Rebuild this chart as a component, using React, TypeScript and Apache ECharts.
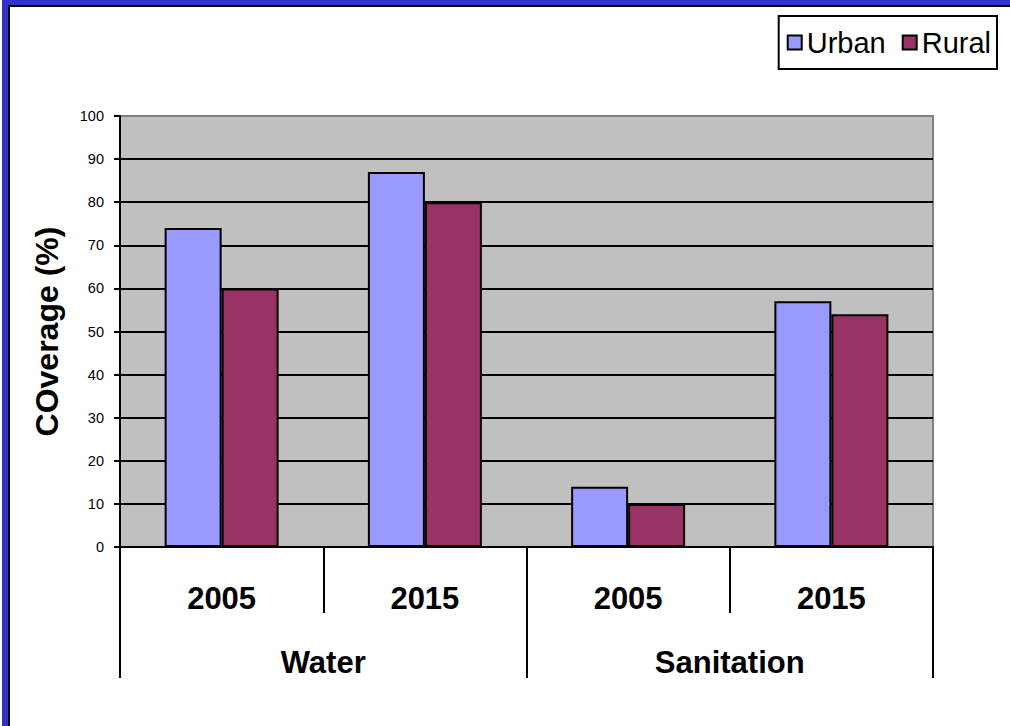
import React, { useEffect, useRef } from 'react';
import * as echarts from 'echarts';

const years = ['2005', '2015', '2005', '2015'];
const groups = ['Water', 'Sanitation'];
const urban = [74, 87, 14, 57];
const rural = [60, 80, 10, 54];
const yMin = 0;
const yMax = 100;
const yStep = 10;
const yTitle = 'COverage (%)';

const FONT = '"Liberation Sans", Arial, sans-serif';

export default function App() {
  const ref = useRef<HTMLDivElement>(null);
  useEffect(() => {
    document.body.style.margin = '0';
    const chart = echarts.init(ref.current!, null, { renderer: 'svg' });
    chart.setOption({
      animation: false,
      backgroundColor: '#FFFFFF',
      textStyle: { fontFamily: FONT },
      graphic: [
        { type: 'rect', shape: { x: 2, y: 0, width: 1008, height: 5 }, style: { fill: '#3333CC' }, silent: true },
        { type: 'rect', shape: { x: 2, y: 0, width: 6, height: 726 }, style: { fill: '#3333CC' }, silent: true },
        { type: 'line', shape: { x1: 8, y1: 6, x2: 1010, y2: 6 }, style: { stroke: '#000', lineWidth: 2 }, silent: true },
        { type: 'line', shape: { x1: 9, y1: 5, x2: 9, y2: 726 }, style: { stroke: '#000', lineWidth: 2 }, silent: true },
      ],
      legend: {
        right: 13,
        top: 16,
        orient: 'horizontal',
        padding: [12, 6, 12, 8],
        itemWidth: 14,
        itemHeight: 14,
        itemGap: 16,
        borderColor: '#000',
        borderWidth: 2,
        backgroundColor: '#fff',
        icon: 'rect',
        textStyle: { fontSize: 29, color: '#000', fontFamily: FONT },
        data: ['Urban', 'Rural'],
      },
      grid: {
        left: 120,
        right: 77,
        top: 116,
        bottom: 179,
        show: true,
        backgroundColor: '#C0C0C0',
        borderColor: '#808080',
        borderWidth: 2,
      },
      xAxis: [
        {
          type: 'category',
          data: years,
          position: 'bottom',
          axisLine: { show: true, lineStyle: { color: '#000', width: 2 } },
          axisTick: { show: true, length: 66, lineStyle: { color: '#000', width: 2 } },
          axisLabel: { fontSize: 31, fontWeight: 'bold', color: '#000', margin: 36, fontFamily: FONT },
          splitLine: { show: false },
        },
        {
          type: 'category',
          data: groups,
          position: 'bottom',
          axisLine: { show: false },
          axisTick: { show: true, length: 131, lineStyle: { color: '#000', width: 2 } },
          axisLabel: { fontSize: 31, fontWeight: 'bold', color: '#000', margin: 100, fontFamily: FONT },
          splitLine: { show: false },
        },
      ],
      yAxis: {
        type: 'value',
        min: yMin,
        max: yMax,
        interval: yStep,
        name: yTitle,
        nameLocation: 'middle',
        nameRotate: 90,
        nameGap: 57,
        nameTextStyle: { fontSize: 32, fontWeight: 'bold', color: '#000', fontFamily: FONT },
        axisLine: { show: true, lineStyle: { color: '#000', width: 2 } },
        axisTick: { show: true, length: 6, lineStyle: { color: '#000', width: 2 } },
        axisLabel: { fontSize: 14.5, color: '#000', margin: 16, fontFamily: FONT },
        splitLine: { show: true, showMaxLine: false, lineStyle: { color: '#000', width: 2 } },
      },
      series: [
        {
          name: 'Urban',
          type: 'bar',
          data: urban,
          barWidth: 57,
          barGap: '0%',
          itemStyle: { color: '#9999FF', borderColor: '#000', borderWidth: 2 },
        },
        {
          name: 'Rural',
          type: 'bar',
          data: rural,
          barWidth: 57,
          barGap: '0%',
          itemStyle: { color: '#993366', borderColor: '#000', borderWidth: 2 },
        },
      ],
    });
    return () => chart.dispose();
  }, []);
  return <div ref={ref} style={{ position: 'absolute', left: 0, top: 0, width: 1010, height: 726 }} />;
}
